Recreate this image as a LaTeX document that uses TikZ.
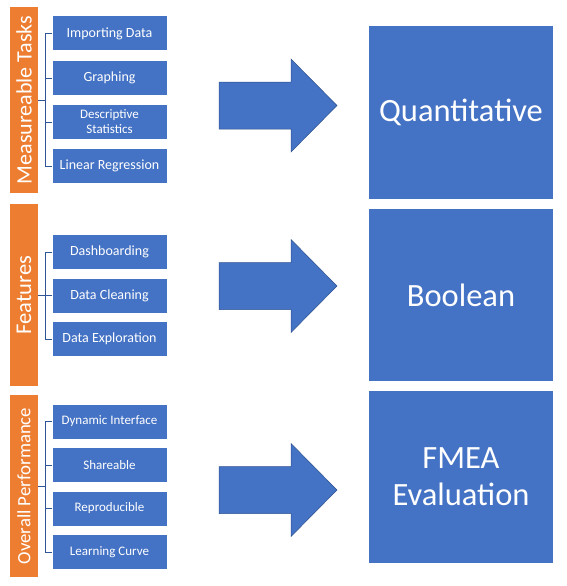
\documentclass[tikz,border=0pt]{standalone}
\usepackage{fontspec}
\setmainfont{Carlito}
\usepackage{tikz}
\usetikzlibrary{arrows.meta}

\definecolor{boxblue}{HTML}{4472C4}
\definecolor{edgeblue}{HTML}{2F528F}
\definecolor{linkblue}{HTML}{2F5597}
\definecolor{barorange}{HTML}{ED7D31}

\tikzset{
    group/.style={fill=barorange, text=white, rotate=90, inner sep=0pt,
        minimum height=28pt},
    task/.style={fill=boxblue, text=white, inner sep=0pt, align=center,
        minimum width=114pt, minimum height=34pt, font={\fontsize{14}{16}\selectfont}},
    result/.style={fill=boxblue, text=white, inner sep=0pt, align=center,
        minimum width=184pt, minimum height=172pt, font={\fontsize{32.5}{37}\selectfont}},
    brace/.style={draw=linkblue, line width=1pt},
    bigarrow/.style={fill=boxblue, draw=edgeblue, line width=0.5pt}
}

\begin{document}
\begin{tikzpicture}[x=1pt, y=-1pt]
        \useasboundingbox (0,0) rectangle (566,586);

        % measureable tasks
        \node[group, minimum width=186pt, font={\fontsize{22}{24}\selectfont}] (mt) at (24, 100) {Measureable Tasks};
        \node[task] (mt1) at (109.5, 33.5) {Importing Data};
        \node[task] (mt2) at (109.5, 78) {Graphing};
        \node[task, font={\fontsize{13}{15}\selectfont}] (mt3) at (109.5, 122) {Descriptive\\Statistics};
        \node[task] (mt4) at (109.5, 166) {Linear Regression};

        \draw[brace] (mt.south) -- ++(7.5, 0) coordinate (mtj);
        \draw[brace] (mt1.west) -| (mtj) |- (mt4.west);
        \draw[brace] (mt2.west) -- (mt2.west -| mtj);
        \draw[brace] (mt3.west) -- (mt3.west -| mtj);


        % features
        \node[group, minimum width=182pt, font={\fontsize{22.5}{24}\selectfont}] (ft) at (24, 295) {Features};
        \node[task] (ft1) at (109.5, 252) {Dashboarding};
        \node[task] (ft2) at (109.5, 295.5) {Data Cleaning};
        \node[task] (ft3) at (109.5, 339) {Data Exploration};

        \draw[brace] (ft.south) -- ++(7.5, 0) coordinate (ftj);
        \draw[brace] (ft1.west) -| (ftj) |- (ft3.west);
        \draw[brace] (ft2.west) -- (ft2.west -| ftj);


        % overall performance
        \node[group, minimum width=182pt, font={\fontsize{18.8}{20}\selectfont}] (op) at (24, 486) {Overall Performance};
        \node[task, font={\fontsize{13}{15}\selectfont}] (op1) at (109.5, 421.5) {Dynamic Interface};
        \node[task, font={\fontsize{13}{15}\selectfont}] (op2) at (109.5, 465) {Shareable};
        \node[task, font={\fontsize{13}{15}\selectfont}] (op3) at (109.5, 508.5) {Reproducible};
        \node[task, font={\fontsize{13}{15}\selectfont}] (op4) at (109.5, 552) {Learning Curve};

        \draw[brace] (op.south) -- ++(7.5, 0) coordinate (opj);
        \draw[brace] (op1.west) -| (opj) |- (op4.west);
        \draw[brace] (op2.west) -- (op2.west -| opj);
        \draw[brace] (op3.west) -- (op3.west -| opj);


        % results
        \node[result, minimum height=173pt] (quant) at (461, 112.5) {Quantitative};
        \node[result] (bool) at (461, 295) {Boolean};
        \node[result] (fmea) at (461, 477) {FMEA\\Evaluation};


        % block arrows
        \draw[bigarrow] (219, 82) -- (291, 82) -- (291, 59) -- (337, 105.5) -- (291, 152) -- (291, 129) -- (219, 129) -- cycle;
        \draw[bigarrow] (219, 262.5) -- (291, 262.5) -- (291, 239.5) -- (337, 286) -- (291, 332.5) -- (291, 309.5) -- (219, 309.5) -- cycle;
        \draw[bigarrow] (219, 466.5) -- (291, 466.5) -- (291, 443.5) -- (337, 490) -- (291, 536.5) -- (291, 513.5) -- (219, 513.5) -- cycle;
    \end{tikzpicture}
\end{document}
